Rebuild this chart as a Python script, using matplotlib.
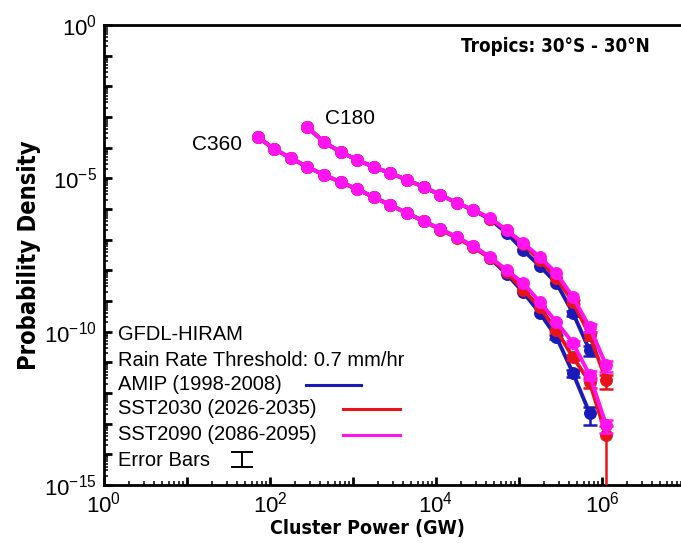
import numpy as np
import matplotlib
matplotlib.use("Agg")
import matplotlib.pyplot as plt
from matplotlib.ticker import LogLocator, FuncFormatter, NullFormatter
from matplotlib.lines import Line2D

plt.rcParams['font.family'] = ['Liberation Sans', 'DejaVu Sans']
plt.rcParams['mathtext.fontset'] = 'custom'
plt.rcParams['mathtext.rm'] = 'Archivo Narrow'
plt.rcParams['mathtext.it'] = 'Archivo Narrow:italic'
plt.rcParams['mathtext.bf'] = 'Archivo Narrow:bold'

# condensed bold face for axis titles and the region tag
BOLD_NARROW = dict(family='DejaVu Sans', fontstretch='condensed', fontweight='bold')

# log10 of cluster power bin centres (GW)
c360_logx = [1.85, 2.05, 2.25, 2.45, 2.65, 2.85, 3.05, 3.25, 3.45, 3.65, 3.85,
             4.05, 4.25, 4.45, 4.65, 4.85, 5.05, 5.25, 5.45, 5.65, 5.85, 6.05]
c180_logx = [2.45, 2.65, 2.85, 3.05, 3.25, 3.45, 3.65, 3.85, 4.05, 4.25,
             4.45, 4.65, 4.85, 5.05, 5.25, 5.45, 5.65, 5.85, 6.05]

# log10 of probability density, C360 runs
c360_amip = [-3.65, -4.04, -4.34, -4.63, -4.89, -5.12, -5.35, -5.61, -5.87, -6.13, -6.39,
             -6.65, -6.92, -7.22, -7.60, -8.12, -8.71, -9.39, -10.17, -11.35, -12.65]
c360_sst2030 = [-3.65, -4.04, -4.34, -4.63, -4.89, -5.12, -5.36, -5.62, -5.88, -6.14, -6.40,
                -6.67, -6.94, -7.25, -7.60, -8.05, -8.64, -9.20, -9.95, -10.83, -11.64, -13.37]
c360_sst2090 = [-3.65, -4.04, -4.34, -4.63, -4.89, -5.12, -5.35, -5.61, -5.87, -6.13, -6.39,
                -6.65, -6.91, -7.21, -7.56, -7.99, -8.41, -9.03, -9.68, -10.37, -11.41, -13.04]

# log10 of probability density, C180 runs
c180_amip = [-3.33, -3.82, -4.14, -4.40, -4.63, -4.83, -5.05, -5.28, -5.54, -5.80,
             -6.04, -6.33, -6.78, -7.34, -7.86, -8.41, -9.39, -10.60]
c180_sst2030 = [-3.33, -3.82, -4.14, -4.40, -4.63, -4.83, -5.05, -5.28, -5.54, -5.80,
                -6.04, -6.31, -6.70, -7.15, -7.66, -8.25, -9.03, -10.11, -11.58]
c180_sst2090 = [-3.33, -3.82, -4.14, -4.40, -4.63, -4.83, -5.05, -5.28, -5.54, -5.80,
                -6.03, -6.29, -6.68, -7.11, -7.56, -8.09, -8.87, -9.85, -11.09]

# relative error (sigma / value) for the last few bins of each run
c360_amip_err = [0.15, 0.25, 0.6]
c360_sst2030_err = [0.1, 0.2, 0.35, 1.0]
c360_sst2090_err = [0.15, 0.3, 0.45]
c180_amip_err = [0.2, 0.35]
c180_sst2030_err = [0.15, 0.3, 0.5]
c180_sst2090_err = [0.3, 0.4]

BLUE = '#1A1AB8'
RED = '#E8141C'
MAGENTA = '#FF14F0'

W, H = 681, 546
fig = plt.figure(figsize=(W / 100, H / 100), dpi=100)
ax = fig.add_axes([104 / W, 1 - 485 / H, 581 / W, 460 / H])


def draw_run(logx, logy, err, color):
    n = len(logy)
    x = 10 ** np.array(logx[:n])
    y = 10 ** np.array(logy)
    ax.plot(x, y, color=color, lw=2.8, marker='o', ms=8.3, mec=color, mfc=color, zorder=3)
    k = len(err)
    ax.errorbar(x[-k:], y[-k:], yerr=y[-k:] * np.array(err), fmt='none',
                ecolor=color, elinewidth=1.8, capsize=5.2, capthick=1.8, zorder=3)


draw_run(c360_logx, c360_amip, c360_amip_err, BLUE)
draw_run(c180_logx, c180_amip, c180_amip_err, BLUE)
draw_run(c360_logx, c360_sst2030, c360_sst2030_err, RED)
draw_run(c180_logx, c180_sst2030, c180_sst2030_err, RED)
draw_run(c360_logx, c360_sst2090, c360_sst2090_err, MAGENTA)
draw_run(c180_logx, c180_sst2090, c180_sst2090_err, MAGENTA)

ax.set_xscale('log')
ax.set_yscale('log')
ax.set_xlim(1, 1e7)
ax.set_ylim(1e-15, 1)

ax.xaxis.set_major_locator(LogLocator(base=10, numticks=50))
ax.xaxis.set_minor_locator(LogLocator(base=10, subs=np.arange(2, 10), numticks=200))
ax.yaxis.set_major_locator(LogLocator(base=10, numticks=50))
ax.yaxis.set_minor_locator(LogLocator(base=10, subs=np.arange(2, 10), numticks=200))


def every(step):
    def fmt(v, pos):
        e = int(round(np.log10(v)))
        if e % step:
            return ''
        return r'$\mathregular{10^{%d}}$' % e
    return FuncFormatter(fmt)


ax.xaxis.set_major_formatter(every(2))
ax.yaxis.set_major_formatter(every(5))
ax.xaxis.set_minor_formatter(NullFormatter())
ax.yaxis.set_minor_formatter(NullFormatter())

ax.tick_params(which='major', direction='in', length=5.5, width=2.0, labelsize=16, pad=5,
               top=False, right=False)
ax.tick_params(which='minor', direction='in', length=3, width=1.1, top=False, right=False)

for side in ['left', 'bottom', 'top']:
    ax.spines[side].set_linewidth(2.0)
ax.spines['right'].set_visible(False)

ax.set_xlabel('Cluster Power (GW)', fontsize=14, **BOLD_NARROW)
ax.set_ylabel('Probability Density', fontsize=17, **BOLD_NARROW)
ax.xaxis.set_label_coords(0.453, -0.074)
ax.yaxis.set_label_coords(-0.108, 0.5)


def fx(px):
    return px / W


def fy(py):
    return 1 - py / H


fig.text(fx(650), fy(47), 'Tropics: 30°S - 30°N', ha='right', va='center',
         fontsize=13.5, **BOLD_NARROW)
fig.text(fx(325), fy(118), 'C180', ha='left', va='center', fontsize=15)
fig.text(fx(192), fy(145), 'C360', ha='left', va='center', fontsize=15)

# key in the lower left corner
legend_rows = [
    ('GFDL-HIRAM', 335, None, None),
    ('Rain Rate Threshold: 0.7 mm/hr', 361, None, None),
    ('AMIP (1998-2008)', 385, BLUE, (306, 361)),
    ('SST2030 (2026-2035)', 409, RED, (343, 400)),
    ('SST2090 (2086-2095)', 435, MAGENTA, (343, 400)),
    ('Error Bars', 460, None, None),
]
for label, py, color, span in legend_rows:
    fig.text(fx(118), fy(py), label, ha='left', va='center', fontsize=14.5)
    if color is not None:
        fig.add_artist(Line2D([fx(span[0]), fx(span[1])], [fy(py), fy(py)],
                              color=color, lw=2.2, transform=fig.transFigure))

# error bar glyph
ex, top, bot, half = 242, 452, 467, 10
fig.add_artist(Line2D([fx(ex), fx(ex)], [fy(top), fy(bot)], color='black', lw=1.4,
                      transform=fig.transFigure))
for py in (top, bot):
    fig.add_artist(Line2D([fx(ex - half), fx(ex + half)], [fy(py), fy(py)], color='black',
                          lw=1.4, transform=fig.transFigure))

fig.savefig('out.png', dpi=100, facecolor='white')
